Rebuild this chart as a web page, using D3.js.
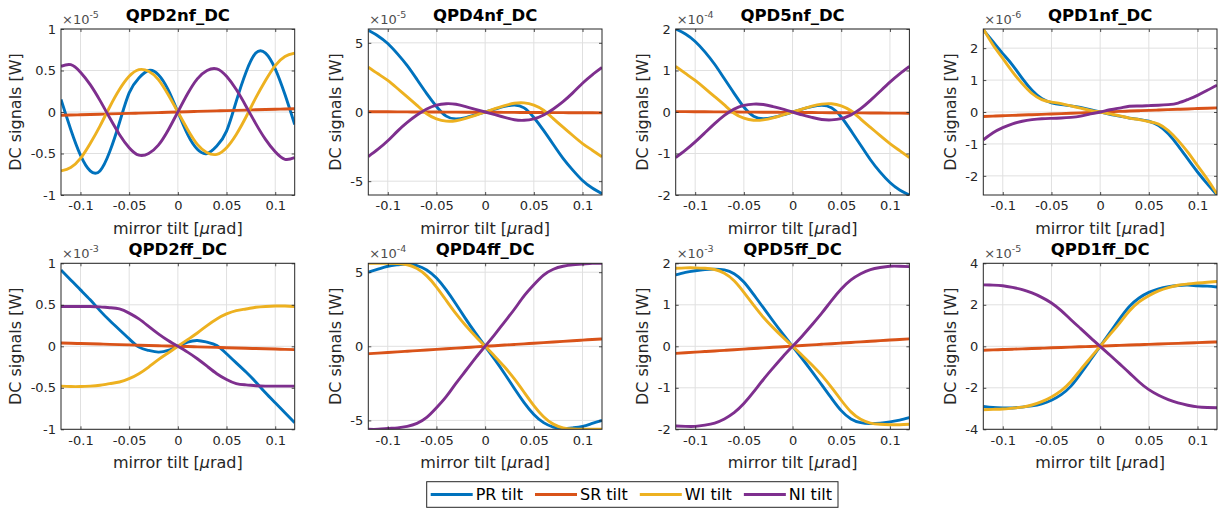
<!DOCTYPE html>
<html><head><meta charset="utf-8">
<script src="https://cdn.jsdelivr.net/npm/d3@7"></script>
<style>
body{margin:0;background:#fff}
svg{display:block}
text{font-family:"DejaVu Sans",sans-serif}
</style>
</head><body>
<svg id="chart" width="1219" height="508"></svg>
<script>
// ---------- data ----------
const xTilt = [-0.12,-0.11,-0.10,-0.09,-0.08,-0.07,-0.06,-0.05,-0.04,-0.03,-0.02,-0.01,0,0.01,0.02,0.03,0.04,0.05,0.06,0.07,0.08,0.09,0.10,0.11,0.12];
const panelTitles = ["QPD2nf_DC","QPD4nf_DC","QPD5nf_DC","QPD1nf_DC","QPD2ff_DC","QPD4ff_DC","QPD5ff_DC","QPD1ff_DC"];
const panelExponents = ["-5","-5","-4","-6","-3","-4","-3","-5"];
const yLimits = [1, 6, 2, 2.6, 1, 5.6, 2, 4];
const yTickValues = [[-1,-0.5,0,0.5,1],[-5,0,5],[-2,-1,0,1,2],[-2,-1,0,1,2],[-1,-0.5,0,0.5,1],[-5,0,5],[-2,-1,0,1,2],[-4,-2,0,2,4]];
const xTickValues = [-0.1,-0.05,0,0.05,0.1];
const seriesNames = ["PR tilt","SR tilt","WI tilt","NI tilt"];

const prTilt = [
 [0.15,-0.21,-0.52,-0.71,-0.71,-0.48,-0.13,0.23,0.41,0.5,0.45,0.27,0,-0.27,-0.45,-0.5,-0.41,-0.23,0.13,0.48,0.71,0.71,0.52,0.21,-0.15],
 [5.9,5.5,4.95,4.2,3.35,2.35,1.33,0.4,-0.3,-0.5,-0.4,-0.2,0,0.2,0.4,0.5,0.3,-0.4,-1.33,-2.35,-3.35,-4.2,-4.95,-5.5,-5.9],
 [2.0,1.88,1.7,1.45,1.15,0.8,0.45,0.12,-0.1,-0.16,-0.13,-0.07,0,0.07,0.13,0.16,0.1,-0.12,-0.45,-0.8,-1.15,-1.45,-1.7,-1.88,-2.0],
 [2.57,2.2,1.83,1.47,1.05,0.68,0.42,0.29,0.23,0.19,0.14,0.07,0,-0.07,-0.13,-0.19,-0.23,-0.29,-0.42,-0.68,-1.05,-1.47,-1.88,-2.25,-2.6],
 [0.92,0.8,0.68,0.56,0.43,0.31,0.2,0.09,-0.01,-0.05,-0.07,-0.05,0,0.05,0.07,0.05,0.01,-0.09,-0.2,-0.31,-0.43,-0.56,-0.68,-0.8,-0.92],
 [5.0,5.2,5.4,5.5,5.55,5.45,5.15,4.6,3.8,2.85,1.85,0.9,0,-0.9,-1.85,-2.85,-3.8,-4.6,-5.15,-5.45,-5.55,-5.5,-5.4,-5.2,-5.0],
 [1.72,1.78,1.82,1.85,1.86,1.84,1.75,1.55,1.25,0.93,0.61,0.3,0,-0.3,-0.61,-0.93,-1.25,-1.55,-1.75,-1.84,-1.86,-1.85,-1.82,-1.78,-1.72],
 [-2.9,-2.95,-2.97,-2.97,-2.93,-2.87,-2.77,-2.6,-2.33,-1.92,-1.32,-0.66,0,0.66,1.32,1.92,2.33,2.6,2.77,2.87,2.93,2.95,2.92,2.9,2.86]
];
const srTilt = [
 [-0.04,-0.037,-0.033,-0.03,-0.027,-0.023,-0.02,-0.017,-0.013,-0.01,-0.007,-0.003,0,0.003,0.007,0.01,0.013,0.017,0.02,0.023,0.027,0.03,0.033,0.037,0.04],
 [0.02,0.017,0.013,0.01,0.007,0.003,0,-0.003,-0.007,-0.01,-0.013,-0.017,-0.02,-0.023,-0.027,-0.03,-0.033,-0.037,-0.04,-0.043,-0.047,-0.05,-0.053,-0.057,-0.06],
 [0.01,0.008,0.007,0.005,0.003,0.002,0,-0.002,-0.003,-0.005,-0.007,-0.008,-0.01,-0.012,-0.013,-0.015,-0.017,-0.018,-0.02,-0.022,-0.023,-0.025,-0.027,-0.028,-0.03],
 [-0.14,-0.129,-0.118,-0.106,-0.095,-0.084,-0.073,-0.061,-0.05,-0.039,-0.028,-0.016,-0.005,0.006,0.018,0.029,0.04,0.051,0.063,0.074,0.085,0.096,0.108,0.119,0.13],
 [0.04,0.037,0.033,0.03,0.027,0.023,0.02,0.017,0.013,0.01,0.007,0.003,0,-0.003,-0.007,-0.01,-0.013,-0.017,-0.02,-0.023,-0.027,-0.03,-0.033,-0.037,-0.04],
 [-0.5,-0.458,-0.417,-0.375,-0.333,-0.292,-0.25,-0.208,-0.167,-0.125,-0.083,-0.042,0,0.042,0.083,0.125,0.167,0.208,0.25,0.292,0.333,0.375,0.417,0.458,0.5],
 [-0.17,-0.155,-0.141,-0.126,-0.112,-0.097,-0.083,-0.068,-0.053,-0.039,-0.024,-0.01,0.005,0.02,0.034,0.049,0.063,0.078,0.093,0.107,0.122,0.136,0.151,0.165,0.18],
 [-0.19,-0.173,-0.157,-0.14,-0.123,-0.107,-0.09,-0.073,-0.057,-0.04,-0.023,-0.007,0.01,0.027,0.043,0.06,0.077,0.093,0.11,0.127,0.143,0.16,0.177,0.193,0.21]
];
const wiTilt = [
 [-0.71,-0.67,-0.56,-0.38,-0.17,0.06,0.27,0.43,0.51,0.49,0.39,0.21,0,-0.21,-0.39,-0.49,-0.51,-0.43,-0.27,-0.06,0.17,0.38,0.56,0.67,0.71],
 [3.24,2.76,2.28,1.7,1.1,0.48,-0.13,-0.5,-0.66,-0.63,-0.46,-0.24,0,0.24,0.46,0.63,0.66,0.5,0.13,-0.48,-1.1,-1.7,-2.28,-2.76,-3.24],
 [1.1,0.93,0.76,0.57,0.37,0.17,-0.03,-0.15,-0.2,-0.19,-0.14,-0.07,0,0.07,0.14,0.19,0.2,0.15,0.03,-0.17,-0.37,-0.57,-0.76,-0.93,-1.1],
 [2.6,2.1,1.68,1.26,0.89,0.58,0.39,0.31,0.26,0.19,0.12,0.05,0,-0.06,-0.12,-0.19,-0.24,-0.3,-0.38,-0.58,-0.89,-1.26,-1.68,-2.1,-2.57],
 [-0.48,-0.485,-0.485,-0.48,-0.47,-0.45,-0.43,-0.39,-0.33,-0.25,-0.16,-0.08,0,0.08,0.16,0.25,0.33,0.39,0.43,0.45,0.47,0.48,0.485,0.485,0.48],
 [5.6,5.6,5.6,5.58,5.5,5.25,4.75,4.0,3.1,2.2,1.4,0.68,0,-0.68,-1.4,-2.2,-3.1,-4.0,-4.75,-5.25,-5.5,-5.58,-5.6,-5.6,-5.6],
 [1.88,1.89,1.89,1.88,1.85,1.76,1.58,1.3,0.99,0.7,0.45,0.22,0,-0.22,-0.45,-0.7,-0.99,-1.3,-1.58,-1.76,-1.85,-1.88,-1.89,-1.89,-1.88],
 [-3.06,-3.04,-3.02,-2.98,-2.93,-2.83,-2.67,-2.44,-2.14,-1.7,-1.12,-0.56,0,0.56,1.12,1.7,2.14,2.44,2.67,2.83,2.94,3.0,3.05,3.09,3.12]
];
const niTilt = [
 [0.55,0.57,0.48,0.33,0.14,-0.07,-0.27,-0.43,-0.52,-0.5,-0.4,-0.22,0,0.22,0.4,0.5,0.52,0.43,0.27,0.07,-0.14,-0.33,-0.48,-0.57,-0.55],
 [-3.22,-2.69,-2.08,-1.38,-0.75,-0.22,0.22,0.5,0.6,0.56,0.39,0.19,0,-0.19,-0.39,-0.56,-0.6,-0.5,-0.22,0.22,0.75,1.38,2.08,2.69,3.22],
 [-1.1,-0.92,-0.72,-0.5,-0.28,-0.08,0.07,0.16,0.19,0.18,0.13,0.07,0,-0.07,-0.13,-0.18,-0.19,-0.16,-0.07,0.08,0.28,0.5,0.72,0.92,1.1],
 [-0.87,-0.65,-0.49,-0.37,-0.29,-0.24,-0.21,-0.2,-0.19,-0.17,-0.13,-0.06,0,0.07,0.12,0.18,0.19,0.2,0.21,0.23,0.28,0.39,0.52,0.68,0.84],
 [0.48,0.48,0.48,0.48,0.475,0.465,0.45,0.4,0.33,0.24,0.15,0.07,0,-0.07,-0.15,-0.24,-0.33,-0.4,-0.45,-0.465,-0.475,-0.48,-0.48,-0.48,-0.48],
 [-5.6,-5.6,-5.55,-5.5,-5.4,-5.2,-4.8,-4.15,-3.4,-2.5,-1.65,-0.8,0,0.8,1.65,2.5,3.4,4.15,4.8,5.2,5.4,5.5,5.55,5.6,5.6],
 [-1.92,-1.93,-1.93,-1.9,-1.85,-1.75,-1.6,-1.38,-1.1,-0.8,-0.52,-0.25,0,0.25,0.52,0.8,1.1,1.38,1.6,1.75,1.85,1.9,1.93,1.93,1.92],
 [2.96,2.95,2.92,2.84,2.73,2.57,2.36,2.09,1.72,1.28,0.85,0.42,0,-0.42,-0.85,-1.28,-1.72,-2.09,-2.36,-2.57,-2.73,-2.84,-2.92,-2.95,-2.96]
];

// ---------- drawing ----------
const seriesData = [prTilt, srTilt, wiTilt, niTilt];
const seriesColors = ["#0072BD","#D95319","#EDB120","#7E2F8E"];
const svg = d3.select("#chart");
svg.append("rect").attr("width",1219).attr("height",508).attr("fill","#fff");

const colLeft = [61, 368.3, 675.7, 983.3];
const rowTop = [29, 263.3];
const plotW = 233.7, plotH = 166;
const axisColor = "#262626", gridColor = "#e0e0e0";

panelTitles.forEach((title, p) => {
  const left = colLeft[p % 4], top = rowTop[Math.floor(p / 4)];
  const x = d3.scaleLinear().domain([-0.12, 0.12]).range([left, left + plotW]);
  const y = d3.scaleLinear().domain([-yLimits[p], yLimits[p]]).range([top + plotH, top]);
  const g = svg.append("g");

  // grid
  g.append("g").selectAll("line").data(xTickValues).join("line")
    .attr("x1", d => x(d)).attr("x2", d => x(d)).attr("y1", top).attr("y2", top + plotH)
    .attr("stroke", gridColor).attr("stroke-width", 1);
  g.append("g").selectAll("line").data(yTickValues[p]).join("line")
    .attr("y1", d => y(d)).attr("y2", d => y(d)).attr("x1", left).attr("x2", left + plotW)
    .attr("stroke", gridColor).attr("stroke-width", 1);

  // clip
  const cid = "clip" + p;
  svg.append("clipPath").attr("id", cid).append("rect")
    .attr("x", left).attr("y", top).attr("width", plotW).attr("height", plotH);

  const line = d3.line().x(d => x(d[0])).y(d => y(d[1])).curve(d3.curveNatural);
  const lines = g.append("g").attr("clip-path", `url(#${cid})`);
  seriesData.forEach((s, k) => {
    const pts = xTilt.map((xv, i) => [xv, s[p][i]]);
    lines.append("path").attr("d", line(pts)).attr("fill", "none")
      .attr("stroke", seriesColors[k]).attr("stroke-width", 2.9).attr("stroke-linejoin", "round");
  });

  // axes (inward ticks)
  const xb = g.append("g").attr("transform", `translate(0,${top + plotH})`)
    .call(d3.axisBottom(x).tickValues(xTickValues).tickSize(-3).tickPadding(6).tickFormat(d => String(d)));
  const xt = g.append("g").attr("transform", `translate(0,${top})`)
    .call(d3.axisTop(x).tickValues(xTickValues).tickSize(-3).tickFormat(""));
  const yl = g.append("g").attr("transform", `translate(${left},0)`)
    .call(d3.axisLeft(y).tickValues(yTickValues[p]).tickSize(-3).tickPadding(5).tickFormat(d => String(d)));
  const yr = g.append("g").attr("transform", `translate(${left + plotW},0)`)
    .call(d3.axisRight(y).tickValues(yTickValues[p]).tickSize(-3).tickFormat(""));
  [xb, xt, yl, yr].forEach(a => {
    a.select(".domain").remove();
    a.selectAll("line").attr("stroke", axisColor).attr("stroke-width", 0.8);
    a.selectAll("text").attr("fill", axisColor).style("font-size", "13px").style("font-family", "DejaVu Sans");
  });
  g.append("rect").attr("x", left).attr("y", top).attr("width", plotW).attr("height", plotH)
    .attr("fill", "none").attr("stroke", axisColor).attr("stroke-width", 1);

  // exponent
  const ex = g.append("text").attr("x", left + 1).attr("y", top - 5)
    .attr("fill", "#4d4d4d").style("font-size", "13px").text("\u00d710");
  ex.append("tspan").attr("dy", -6).style("font-size", "9.5px").text(panelExponents[p]);

  // title
  g.append("text").attr("x", left + plotW / 2).attr("y", top - 8).attr("text-anchor", "middle")
    .attr("fill", "#000").style("font-size", "16.5px").style("font-weight", "bold").text(title);

  // x label
  const xlab = g.append("text").attr("x", left + plotW / 2).attr("y", top + plotH + 38.5)
    .attr("text-anchor", "middle").attr("fill", axisColor).style("font-size", "16px");
  xlab.append("tspan").text("mirror tilt [");
  xlab.append("tspan").style("font-style", "italic").text("\u03bc");
  xlab.append("tspan").text("rad]");

  // y label positioned left of tick labels
  let minX = Infinity;
  yl.selectAll("text").each(function(){ const b = this.getBBox(); const m = this.getCTM(); minX = Math.min(minX, b.x + m.e); });
  const cy = top + plotH / 2;
  const cx = minX - 15.5 + 6;
  g.append("text").attr("transform", `translate(${cx},${cy}) rotate(-90)`)
    .attr("text-anchor", "middle").attr("fill", axisColor).style("font-size", "16px").text("DC signals [W]");
});

// legend
const lg = svg.append("g");
const lgX = 426.7, lgY = 481.7, lgH = 25.6;
let cur = lgX + 4;
const itemsG = lg.append("g");
seriesNames.forEach((name, k) => {
  itemsG.append("line").attr("x1", cur).attr("x2", cur + 42).attr("y1", lgY + lgH / 2).attr("y2", lgY + lgH / 2)
    .attr("stroke", seriesColors[k]).attr("stroke-width", 2.8);
  const t = itemsG.append("text").attr("x", cur + 45).attr("y", lgY + lgH / 2 + 5.8)
    .attr("fill", "#000").style("font-size", "16px").text(name);
  cur += 45 + t.node().getComputedTextLength() + 12;
});
lg.insert("rect", ":first-child").attr("x", lgX).attr("y", lgY).attr("width", 838 - lgX).attr("height", lgH)
  .attr("fill", "#fff").attr("stroke", axisColor).attr("stroke-width", 1);
</script>
</body></html>
